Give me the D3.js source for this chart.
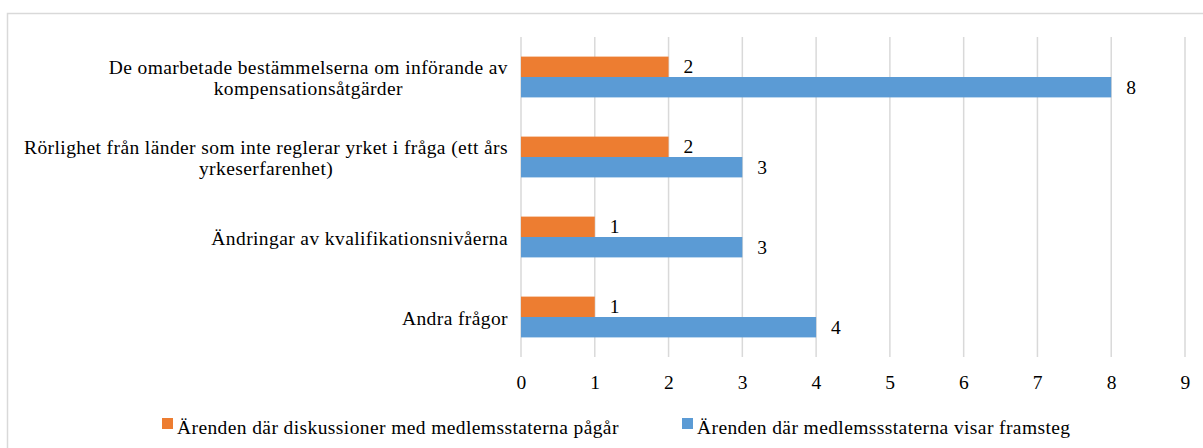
<!DOCTYPE html>
<html>
<head>
<meta charset="utf-8">
<script src="https://cdn.jsdelivr.net/npm/d3@7"></script>
<style>
  html, body { margin: 0; padding: 0; background: #fff; }
  svg { display: block; }
</style>
</head>
<body>
<svg id="chart" width="1203" height="448"></svg>
<script>
const categories = [
  ["De omarbetade bestämmelserna om införande av", "kompensationsåtgärder"],
  ["Rörlighet från länder som inte reglerar yrket i fråga (ett års", "yrkeserfarenhet)"],
  ["Ändringar av kvalifikationsnivåerna"],
  ["Andra frågor"]
];
const seriesNames = [
  "Ärenden där diskussioner med medlemsstaterna pågår",
  "Ärenden där medlemssstaterna visar framsteg"
];
const seriesColors = ["#ED7D31", "#5B9BD5"];
const discussionValues = [2, 2, 1, 1];
const progressValues = [8, 3, 3, 4];
const xTicks = [0, 1, 2, 3, 4, 5, 6, 7, 8, 9];

const FONT = '"Liberation Serif", "Times New Roman", serif';
const fs = 19.5;
const ls = 0.4;
function styleText(sel) {
  return sel.style("font-family", FONT).style("font-size", fs + "px")
    .style("letter-spacing", ls + "px").style("fill", "#000");
}

const svg = d3.select("#chart");
const W = 1203, H = 448;

// chart frame (left and top visible)
svg.append("path")
  .attr("d", `M7.5,${H} V13.5 H${W}`)
  .attr("fill", "none").attr("stroke", "#d9d9d9").attr("stroke-width", 1.5);

const x = d3.scaleLinear().domain([0, 9]).range([521, 1185]);
const catIdx = categories.map((d, i) => i);
const y = d3.scaleBand().domain(catIdx).range([37, 357]).padding(0);
const bw = y.bandwidth();
const ySub = d3.scaleBand().domain([0, 1]).range([bw * 0.245, bw * 0.755]).padding(0);

// gridlines
svg.append("g").selectAll("line").data(xTicks).join("line")
  .attr("x1", d => x(d)).attr("x2", d => x(d))
  .attr("y1", 37).attr("y2", 357)
  .attr("stroke", "#d9d9d9").attr("stroke-width", 1.5);

// x axis labels
const xAxis = d3.axisBottom(x).tickValues(xTicks).tickSize(0).tickPadding(0).tickFormat(d3.format("d"));
const gx = svg.append("g").attr("transform", "translate(0,389)").call(xAxis);
gx.select(".domain").remove();
styleText(gx.selectAll("text")).attr("dy", null).attr("y", 0);

// bars
const series = [discussionValues, progressValues];
series.forEach((vals, s) => {
  const g = svg.append("g");
  g.selectAll("rect").data(vals).join("rect")
    .attr("x", x(0))
    .attr("y", (d, i) => y(i) + ySub(s))
    .attr("width", d => x(d) - x(0))
    .attr("height", ySub.bandwidth())
    .attr("fill", seriesColors[s]);
  styleText(g.selectAll("text").data(vals).join("text"))
    .attr("x", d => x(d) + 15)
    .attr("y", (d, i) => y(i) + ySub(s) + ySub.bandwidth() / 2 + 6.5)
    .text(d => d);
});

// category labels: lines centered, widest line right-aligned to 508
const labelRight = 508;
categories.forEach((lines, i) => {
  const g = svg.append("g");
  const texts = lines.map(ln => styleText(g.append("text"))
    .attr("text-anchor", "middle")
    .text(ln));
  const widths = texts.map(t => t.node().getComputedTextLength());
  const maxW = d3.max(widths);
  const cx = labelRight - maxW / 2;
  const lh = 21;
  const cy = y(i) + bw / 2;
  texts.forEach((t, j) => {
    t.attr("x", cx).attr("y", cy + 7.5 + (j - (lines.length - 1) / 2) * lh);
  });
});

// legend
const legendX = [162, 682];
seriesNames.forEach((name, s) => {
  svg.append("rect").attr("x", legendX[s]).attr("y", 418).attr("width", 11).attr("height", 11)
    .attr("fill", seriesColors[s]);
  styleText(svg.append("text")).attr("x", legendX[s] + 15).attr("y", 434).text(name);
});
</script>
</body>
</html>
